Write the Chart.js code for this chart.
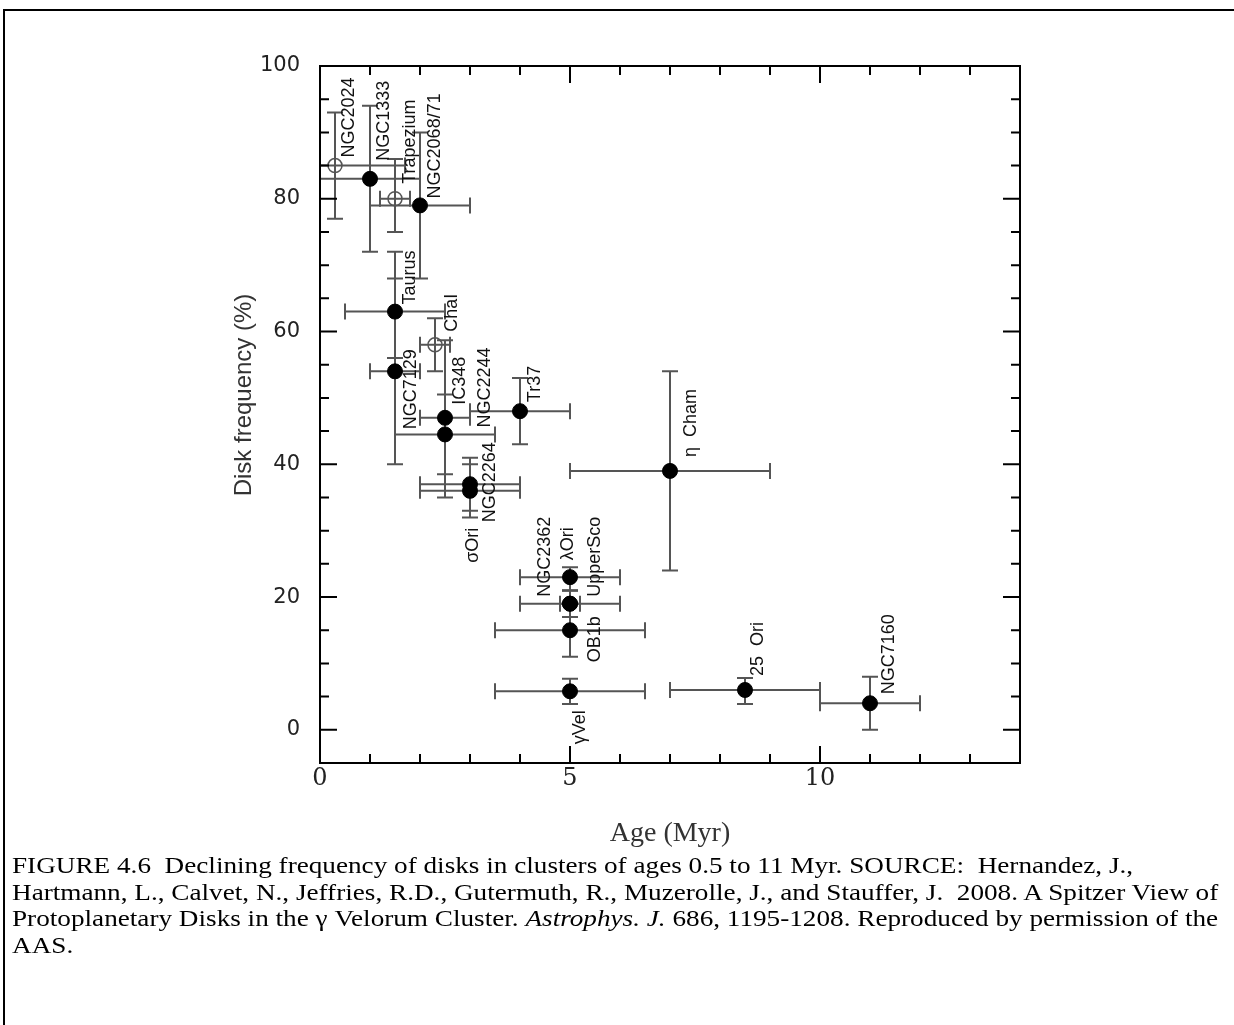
<!DOCTYPE html>
<html>
<head>
<meta charset="utf-8">
<script src="https://cdn.jsdelivr.net/npm/chart.js@4.4.1/dist/chart.umd.min.js"></script>
<style>
  html, body { margin: 0; padding: 0; background: #fff; }
  #wrap { position: relative; width: 1234px; height: 1025px; overflow: hidden; }
  #frame { position: absolute; left: 3px; top: 9px; width: 1240px; height: 1030px;
           border-top: 2px solid #000; border-left: 2px solid #000; }
  #chart { position: absolute; left: 0; top: 0; }
  #caption { position: absolute; left: 12px; top: 852px; width: 1100px; white-space: nowrap;
             font-family: "Liberation Serif", "Times New Roman", serif; font-size: 23.5px;
             line-height: 26.5px; color: #000; transform: scaleX(1.157); transform-origin: 0 0; }
</style>
</head>
<body>
<div id="wrap">
  <div id="frame"></div>
  <canvas id="chart" width="1234" height="1025"></canvas>
  <div id="caption">FIGURE 4.6&nbsp; Declining frequency of disks in clusters of ages 0.5 to 11 Myr. SOURCE:&nbsp; Hernandez, J.,<br>Hartmann, L., Calvet, N., Jeffries, R.D., Gutermuth, R., Muzerolle, J., and Stauffer, J.&nbsp; 2008. A Spitzer View of<br>Protoplanetary Disks in the &gamma; Velorum Cluster. <i>Astrophys. J.</i> 686, 1195-1208. Reproduced by permission of the<br>AAS.</div>
</div>
<script>
// cluster data
const clusters = ["NGC2024", "NGC1333", "Trapezium", "NGC2068/71", "Taurus", "Cha I", "NGC7129", "IC348", "NGC2244", "Tr37",
  "NGC2264", "\u03C3Ori", "NGC2362", "\u03BBOri", "UpperSco", "OB1b", "\u03B3Vel", "\u03B7 Cham", "25 Ori", "NGC7160"];
const labelText = ["NGC2024", "NGC1333", "Trapezium", "NGC2068/71", "Taurus", "ChaI", "NGC7129", "IC348", "NGC2244", "Tr37",
  "NGC2264", "\u03C3Ori", "NGC2362", "\u03BBOri", "UpperSco", "OB1b", "\u03B3Vel", "\u03B7  Cham", "25  Ori", "NGC7160"];
const age    = [0.3, 1.0, 1.5, 2.0, 1.5, 2.3, 1.5, 2.5, 2.5, 4.0, 3.0, 3.0, 5.0, 5.0, 5.0, 5.0, 5.0, 7.0, 8.5, 11.0];
const ageLo  = [0.0, 0.0, 1.2, 1.0, 0.5, 2.0, 1.0, 2.0, 1.5, 3.0, 2.0, 2.0, 4.0, 4.0, 4.8, 3.5, 3.5, 5.0, 7.0, 10.0];
const ageHi  = [1.7, 2.0, 1.8, 3.0, 2.5, 2.6, 2.0, 3.0, 3.5, 5.0, 4.0, 4.0, 6.0, 6.0, 5.2, 6.5, 6.5, 9.0, 10.0, 12.0];
const freq   = [85, 83, 80, 79, 63, 58, 54, 47, 44.5, 48, 37, 36, 19, 23, 19, 15, 5.8, 39, 6, 4];
const freqLo = [77, 72, 75, 68, 56, 54, 40, 38.5, 35, 43, 33, 32, 17, 21, 17, 11, 3.9, 24, 3.9, 0];
const freqHi = [93, 94, 86, 90, 72, 62, 68, 50.5, 58.7, 53, 41, 40, 21, 24.5, 21, 19, 7.7, 54, 7.8, 8];
const openSymbol = [true, false, true, false, false, true, false, false, false, false,
  false, false, false, false, false, false, false, false, false, false];

const xTickLabels = [0, 5, 10];
const yTickLabels = [0, 20, 40, 60, 80, 100];

// label anchor offsets in px from the point (text reads bottom to top)
const labelOffsets = [[14, -8], [14, -18], [15, -15], [15, -7], [15, -7], [17, -13], [16, 58], [15, -13], [40, -7], [15, -9],
  [20, 38], [3, 72], [-25, -7], [-2, -17], [25, -7], [25, 32], [10, 53], [21, -14], [13, -14], [19, -9]];

const filled = [], hollow = [];
age.forEach((a, i) => {
  const p = { x: a, y: freq[i], i };
  (openSymbol[i] ? hollow : filled).push(p);
});

const errorBars = {
  id: "errorBars",
  beforeDatasetsDraw(chart) {
    const { ctx, chartArea: ca, scales: { x, y } } = chart;
    ctx.save();
    ctx.beginPath();
    ctx.rect(ca.left, ca.top, ca.right - ca.left, ca.bottom - ca.top);
    ctx.clip();
    ctx.strokeStyle = "#555";
    ctx.lineWidth = 2;
    const cap = 8;
    age.forEach((a, i) => {
      const px = x.getPixelForValue(a), py = y.getPixelForValue(freq[i]);
      const x0 = x.getPixelForValue(ageLo[i]), x1 = x.getPixelForValue(ageHi[i]);
      const y0 = y.getPixelForValue(freqLo[i]), y1 = y.getPixelForValue(freqHi[i]);
      ctx.beginPath();
      ctx.moveTo(x0, py); ctx.lineTo(x1, py);
      ctx.moveTo(px, y0); ctx.lineTo(px, y1);
      ctx.moveTo(x0, py - cap); ctx.lineTo(x0, py + cap);
      ctx.moveTo(x1, py - cap); ctx.lineTo(x1, py + cap);
      ctx.moveTo(px - cap, y0); ctx.lineTo(px + cap, y0);
      ctx.moveTo(px - cap, y1); ctx.lineTo(px + cap, y1);
      ctx.stroke();
    });
    ctx.restore();
  },
  afterDatasetsDraw(chart) {
    const { ctx, scales: { x, y } } = chart;
    ctx.save();
    ctx.fillStyle = "#111";
    ctx.font = "18px 'Liberation Sans', Arial, sans-serif";
    ctx.textAlign = "left";
    ctx.textBaseline = "middle";
    labelText.forEach((t, i) => {
      const px = x.getPixelForValue(age[i]) + labelOffsets[i][0];
      const py = y.getPixelForValue(freq[i]) + labelOffsets[i][1];
      ctx.save();
      ctx.translate(px, py);
      ctx.rotate(-Math.PI / 2);
      ctx.fillText(t, 0, 0);
      ctx.restore();
    });
    ctx.restore();
  },
  afterDraw(chart) {
    // inward ticks on all four sides + frame
    const { ctx, chartArea: ca, scales: { x, y } } = chart;
    ctx.save();
    ctx.strokeStyle = "#000";
    ctx.lineWidth = 2;
    ctx.beginPath();
    for (let v = 0; v <= 14; v += 1) {
      const px = x.getPixelForValue(v);
      const len = v % 5 === 0 ? 17 : 9;
      ctx.moveTo(px, ca.bottom); ctx.lineTo(px, ca.bottom - len);
      ctx.moveTo(px, ca.top); ctx.lineTo(px, ca.top + len);
    }
    for (let v = -5; v <= 100; v += 5) {
      const py = y.getPixelForValue(v);
      const len = v % 20 === 0 ? 17 : 9;
      ctx.moveTo(ca.left, py); ctx.lineTo(ca.left + len, py);
      ctx.moveTo(ca.right, py); ctx.lineTo(ca.right - len, py);
    }
    ctx.stroke();
    ctx.strokeRect(ca.left, ca.top, ca.right - ca.left, ca.bottom - ca.top);

    // y axis title, centred where the original puts it
    ctx.fillStyle = "#333";
    ctx.font = "24px 'Liberation Sans', Arial, sans-serif";
    ctx.textAlign = "center";
    ctx.textBaseline = "middle";
    ctx.translate(244, 395);
    ctx.rotate(-Math.PI / 2);
    ctx.fillText("Disk frequency (%)", 0, 0);
    ctx.restore();
  }
};

new Chart(document.getElementById("chart").getContext("2d"), {
  type: "scatter",
  data: {
    datasets: [
      { data: filled, pointRadius: 7.5, pointBackgroundColor: "#000", pointBorderColor: "#000", pointBorderWidth: 1 },
      { data: hollow, pointRadius: 7, pointBackgroundColor: "rgba(0,0,0,0)", pointBorderColor: "#555", pointBorderWidth: 1.5 }
    ]
  },
  options: {
    responsive: false,
    animation: false,
    layout: { padding: { left: 220, top: 66, right: 214, bottom: 162 } },
    plugins: { legend: { display: false }, tooltip: { enabled: false } },
    scales: {
      x: {
        type: "linear", min: 0, max: 14,
        afterFit: (s) => { s.height = 100; },
        grid: { display: false, drawTicks: false },
        border: { display: false },
        ticks: {
          stepSize: 1, padding: 1, color: "#222",
          font: { family: "'DejaVu Serif', serif", size: 24 },
          callback: (v) => xTickLabels.includes(v) ? String(v) : ""
        },
        title: { display: true, text: "Age (Myr)", color: "#333", padding: { top: 0, bottom: 13 },
          font: { family: "'Liberation Serif', serif", size: 28 } }
      },
      y: {
        type: "linear", min: -5, max: 100,
        afterFit: (s) => { s.width = 100; },
        grid: { display: false, drawTicks: false },
        border: { display: false },
        ticks: {
          stepSize: 5, padding: 20, color: "#222",
          font: { family: "'DejaVu Sans', sans-serif", size: 21 },
          callback: (v) => yTickLabels.includes(v) ? String(v) : ""
        },
        title: { display: false }
      }
    }
  },
  plugins: [errorBars]
});
</script>
</body>
</html>
